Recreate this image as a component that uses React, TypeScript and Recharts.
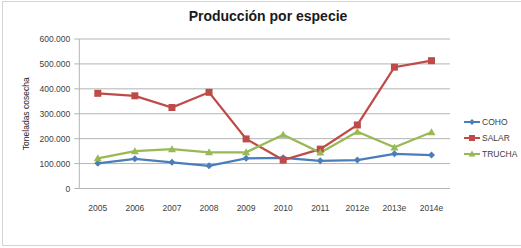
import React from "react";
import { LineChart, Line, XAxis, YAxis, CartesianGrid } from "recharts";

const categories = ["2005", "2006", "2007", "2008", "2009", "2010", "2011", "2012e", "2013e", "2014e"];
const coho = [101000, 119000, 105000, 91000, 121000, 123000, 111000, 114000, 139000, 134000];
const salar = [382000, 372000, 325000, 386000, 199000, 114000, 158000, 255000, 487000, 513000];
const trucha = [121000, 150000, 158000, 145000, 145000, 216000, 144000, 228000, 165000, 226000];
const yTicks = [0, 100000, 200000, 300000, 400000, 500000, 600000];

const data = categories.map((c, i) => ({ year: c, COHO: coho[i], SALAR: salar[i], TRUCHA: trucha[i] }));

const C_COHO = "#4a7ebb";
const C_SALAR = "#be4b48";
const C_TRUCHA = "#98b954";
const FONT = "'Liberation Sans', Arial, sans-serif";

const fmt = (v: number) => (v === 0 ? "0" : v.toLocaleString("de-DE"));

const Diamond = (p: any) => {
  const { cx, cy } = p;
  if (cx == null || cy == null) return null;
  const r = 3.5;
  return <path d={`M${cx},${cy - r}L${cx + r},${cy}L${cx},${cy + r}L${cx - r},${cy}Z`} fill={C_COHO} />;
};
const Square = (p: any) => {
  const { cx, cy } = p;
  if (cx == null || cy == null) return null;
  const r = 3.5;
  return <rect x={cx - r} y={cy - r} width={2 * r} height={2 * r} fill={C_SALAR} />;
};
const Triangle = (p: any) => {
  const { cx, cy } = p;
  if (cx == null || cy == null) return null;
  const r = 4;
  return <path d={`M${cx},${cy - r}L${cx + r},${cy + r * 0.75}L${cx - r},${cy + r * 0.75}Z`} fill={C_TRUCHA} />;
};

const legendItems = [
  { name: "COHO", color: C_COHO, shape: "diamond" },
  { name: "SALAR", color: C_SALAR, shape: "square" },
  { name: "TRUCHA", color: C_TRUCHA, shape: "triangle" },
];

export default function App() {
  return (
    <div style={{ position: "absolute", left: 0, top: 0, width: 521, height: 248, background: "#fff", overflow: "hidden", fontFamily: FONT }}>
      <div style={{ position: "absolute", left: 2, top: 1, width: 530, height: 245, border: "1px solid #d4d4d4", boxSizing: "border-box" }} />
      <div style={{ position: "absolute", left: 0, top: 8, width: 536, textAlign: "center", fontSize: 14, fontWeight: "bold", color: "#1a1a1a" }}>
        Producción por especie
      </div>
      <div style={{ position: "absolute", left: 0, top: 0 }}>
        <LineChart width={521} height={248} data={data} margin={{ top: 39, right: 71, bottom: 29.5, left: 0 }}>
          <CartesianGrid vertical={false} stroke="#b3b3b3" strokeWidth={1} />
          <XAxis
            dataKey="year"
            padding={{ left: 18.5, right: 18.5 }}
            tickLine={false}
            axisLine={{ stroke: "#b3b3b3" }}
            tick={{ fontSize: 8.5, fill: "#404040", fontFamily: FONT }}
            tickMargin={10}
            interval={0}
          />
          <YAxis
            width={79.3}
            domain={[0, 600000]}
            ticks={yTicks}
            tickFormatter={fmt}
            tickSize={5}
            tickMargin={4}
            tickLine={{ stroke: "#b3b3b3" }}
            axisLine={{ stroke: "#b3b3b3" }}
            tick={{ fontSize: 8.5, fill: "#404040", fontFamily: FONT }}
            label={{ value: "Toneladas cosecha", angle: -90, position: "insideLeft", dx: 21, dy: 0, style: { fontSize: 8.5, fill: "#262626", fontFamily: FONT, textAnchor: "middle" } }}
          />
          <Line dataKey="COHO" stroke={C_COHO} strokeWidth={2.25} dot={<Diamond />} isAnimationActive={false} />
          <Line dataKey="SALAR" stroke={C_SALAR} strokeWidth={2.25} dot={<Square />} isAnimationActive={false} />
          <Line dataKey="TRUCHA" stroke={C_TRUCHA} strokeWidth={2.25} dot={<Triangle />} isAnimationActive={false} />
        </LineChart>
      </div>
      {legendItems.map((it, i) => (
        <div key={it.name} style={{ position: "absolute", left: 464, top: [122.3, 137.5, 154][i] - 6, height: 12, display: "flex", alignItems: "center" }}>
          <svg width={16} height={10} style={{ display: "block" }}>
            <line x1={0} y1={5} x2={16} y2={5} stroke={it.color} strokeWidth={2} />
            {it.shape === "diamond" && <path d="M8,2L11,5L8,8L5,5Z" fill={it.color} />}
            {it.shape === "square" && <rect x={5} y={2} width={6} height={6} fill={it.color} />}
            {it.shape === "triangle" && <path d="M8,1.5L11.5,7.5L4.5,7.5Z" fill={it.color} />}
          </svg>
          <span style={{ fontSize: 8.5, color: "#404040", marginLeft: 2 }}>{it.name}</span>
        </div>
      ))}
    </div>
  );
}
